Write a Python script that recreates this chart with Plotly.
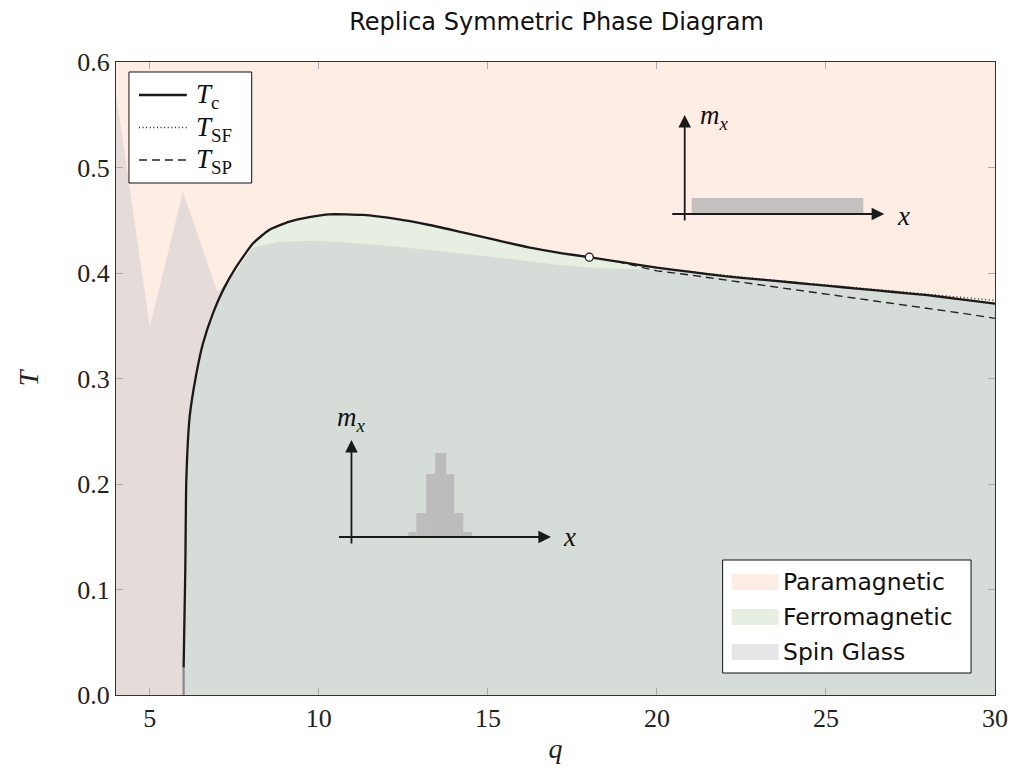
import plotly.graph_objects as go

# ---------------- data ----------------
Q_RANGE = [4, 30]
T_RANGE = [0.0, 0.6]
X_TICKS = [5, 10, 15, 20, 25, 30]
Y_TICKS = [0.0, 0.1, 0.2, 0.3, 0.4, 0.5, 0.6]

# critical temperature T_c(q)
tc_q = [6.0, 6.05, 6.08, 6.18, 6.38, 6.57, 6.87, 7.17, 7.56, 8.05, 8.54, 9.13, 9.72,
        10.31, 11.3, 12.28, 13.27, 14.25, 15.23, 16.2, 17.2, 18.0, 19, 20, 21, 22, 23,
        24, 25, 26, 27, 28, 29, 30]
tc_T = [0.026, 0.12, 0.204, 0.264, 0.305, 0.333, 0.362, 0.384, 0.406, 0.428, 0.441,
        0.4487, 0.453, 0.4556, 0.455, 0.4512, 0.4455, 0.4385, 0.4313, 0.4243, 0.4187,
        0.415, 0.410, 0.405, 0.401, 0.397, 0.394, 0.391, 0.388, 0.385, 0.382, 0.379,
        0.375, 0.371]

# low part of the q=6 boundary (drawn grey)
tc_low_q = [6.0, 6.0]
tc_low_T = [0.0, 0.026]

# spin-freezing temperature T_SF
sf_q = [18.8, 20, 21, 22, 23, 24, 25, 26, 27, 28, 29, 30]
sf_T = [0.411, 0.405, 0.4012, 0.3975, 0.3945, 0.3916, 0.3888, 0.386, 0.3832, 0.3803,
        0.377, 0.374]

# spinodal temperature T_SP
sp_q = [18.8, 20, 21, 22, 23, 24, 25, 26, 27, 28, 29, 30]
sp_T = [0.411, 0.402, 0.398, 0.3935, 0.3895, 0.385, 0.3805, 0.376, 0.3715, 0.367,
        0.362, 0.357]

# upper boundary of the spin-glass region
sg_q = [4, 5, 5.98, 7.0, 7.3, 7.56, 8.05, 8.84, 10.02, 11.79, 13.76, 15.73, 17.1,
        18.28, 20.3, 21, 22, 23, 24, 25, 26, 27, 28, 29, 30]
sg_T = [0.57, 0.349, 0.477, 0.382, 0.392, 0.402, 0.424, 0.4297, 0.4306, 0.4265,
        0.4202, 0.413, 0.4076, 0.4044, 0.403, 0.401, 0.397, 0.394, 0.391, 0.388,
        0.385, 0.382, 0.379, 0.375, 0.371]

# marked point on T_c
pt_q = [18.0]
pt_T = [0.415]

# inset histograms (m_x distributions)
ferro_bin_centers = [0.61, 0.70, 0.795, 0.895, 0.99, 1.075, 1.165]
ferro_bin_widths = [0.08, 0.10, 0.09, 0.11, 0.08, 0.09, 0.09]
ferro_heights = [0.05, 0.24, 0.63, 0.84, 0.63, 0.24, 0.05]

para_bin_centers = [0.93]
para_bin_widths = [1.72]
para_heights = [0.16]

phase_names = ["Paramagnetic", "Ferromagnetic", "Spin Glass"]
line_names = ["<i>T</i><sub>c</sub>", "<i>T</i><sub>SF</sub>", "<i>T</i><sub>SP</sub>"]

PARA_COLOR = "#fdede5"
FERRO_COLOR = "#e6efe2"
SG_COLOR = "rgba(190,190,196,0.38)"
HIST_COLOR = "rgba(180,180,180,0.8)"
phase_colors = [PARA_COLOR, FERRO_COLOR, SG_COLOR]

TC_LINE = dict(color="#1a1a1a", width=2.3)
SF_LINE = dict(color="#222222", width=1.3, dash="1px,2.6px")
SP_LINE = dict(color="#222222", width=1.4, dash="8px,5px")
line_styles = [TC_LINE, SF_LINE, SP_LINE]

SERIF = "Liberation Serif"
SANS = "DejaVu Sans"

fig = go.Figure()

# regions
fig.add_trace(go.Scatter(
    x=[Q_RANGE[0], Q_RANGE[1], Q_RANGE[1], Q_RANGE[0]],
    y=[T_RANGE[0], T_RANGE[0], T_RANGE[1], T_RANGE[1]],
    fill="toself", fillcolor=PARA_COLOR, mode="lines", line=dict(width=0),
    name=phase_names[0], showlegend=False, hoverinfo="skip"))

fig.add_trace(go.Scatter(
    x=[tc_q[0]] + tc_q + [tc_q[-1]],
    y=[0.0] + tc_T + [0.0],
    fill="toself", fillcolor=FERRO_COLOR, mode="lines",
    line=dict(width=0, shape="spline", smoothing=0.5),
    name=phase_names[1], showlegend=False, hoverinfo="skip"))

fig.add_trace(go.Scatter(
    x=[sg_q[0]] + sg_q + [sg_q[-1]],
    y=[0.0] + sg_T + [0.0],
    fill="toself", fillcolor=SG_COLOR, mode="lines", line=dict(width=0),
    name=phase_names[2], showlegend=False, hoverinfo="skip"))

# lines
fig.add_trace(go.Scatter(x=tc_low_q, y=tc_low_T, mode="lines",
                         line=dict(color="#8a8a8a", width=2.2),
                         showlegend=False, hoverinfo="skip"))
fig.add_trace(go.Scatter(x=sf_q, y=sf_T, mode="lines", line=SF_LINE,
                         name=line_names[1], showlegend=False))
fig.add_trace(go.Scatter(x=sp_q, y=sp_T, mode="lines", line=SP_LINE,
                         name=line_names[2], showlegend=False))
fig.add_trace(go.Scatter(x=tc_q, y=tc_T, mode="lines",
                         line=dict(**TC_LINE, shape="spline", smoothing=0.5),
                         name=line_names[0], showlegend=False))
fig.add_trace(go.Scatter(x=pt_q, y=pt_T, mode="markers",
                         marker=dict(color="white", size=8,
                                     line=dict(color="#1a1a1a", width=1.3)),
                         showlegend=False, hoverinfo="skip"))

# inset histograms
fig.add_trace(go.Bar(x=ferro_bin_centers, y=ferro_heights, width=ferro_bin_widths,
                     marker=dict(color=HIST_COLOR, line=dict(width=0)),
                     xaxis="x2", yaxis="y2", showlegend=False, hoverinfo="skip"))
fig.add_trace(go.Bar(x=para_bin_centers, y=para_heights, width=para_bin_widths,
                     marker=dict(color=HIST_COLOR, line=dict(width=0)),
                     xaxis="x3", yaxis="y3", showlegend=False, hoverinfo="skip"))

# ---------------- layout ----------------
W, H = 1020, 771
L, R, TOP, B = 116, 23, 62, 76
pw, ph = W - L - R, H - TOP - B


def px_x(p):
    return (p - L) / pw


def px_y(p):
    return (H - B - p) / ph


# inset axes: 100 px per unit, origin at the arrows' crossing
inset_x_range = [-0.14, 2.35]
inset_y_range = [-0.08, 1.30]

hidden = dict(visible=False, fixedrange=True)

fig.update_layout(
    width=W, height=H,
    margin=dict(l=L, r=R, t=TOP, b=B),
    paper_bgcolor="white",
    plot_bgcolor="rgba(0,0,0,0)",
    barmode="overlay",
    showlegend=False,
    title=dict(text="Replica Symmetric Phase Diagram", x=(L + pw / 2) / W, xanchor="center",
               y=1 - 22 / H, yanchor="middle",
               font=dict(family=SANS, size=24, color="#111")),
    xaxis=dict(range=Q_RANGE, tickvals=X_TICKS, ticktext=[str(v) for v in X_TICKS],
               showgrid=False, zeroline=False, showline=True, mirror="allticks",
               linecolor="#333", linewidth=1, ticks="inside", ticklen=7,
               tickcolor="#aaaaaa", tickwidth=1,
               tickfont=dict(family=SERIF, size=26, color="#222"),
               title=dict(text="<i>q</i>", font=dict(family=SERIF, size=28, color="#222"),
                          standoff=6)),
    yaxis=dict(range=T_RANGE, tickvals=Y_TICKS, ticktext=["%.1f" % v for v in Y_TICKS],
               showgrid=False, zeroline=False, showline=True, mirror="allticks",
               linecolor="#333", linewidth=1, ticks="inside", ticklen=7,
               tickcolor="#aaaaaa", tickwidth=1,
               tickfont=dict(family=SERIF, size=26, color="#222"),
               title=dict(text="<i>T</i>", font=dict(family=SERIF, size=28, color="#222"),
                          standoff=30)),
    xaxis2=dict(domain=[px_x(338), px_x(587)], range=inset_x_range, anchor="y2", **hidden),
    yaxis2=dict(domain=[px_y(545), px_y(407)], range=inset_y_range, anchor="x2", **hidden),
    xaxis3=dict(domain=[px_x(672), px_x(921)], range=inset_x_range, anchor="y3", **hidden),
    yaxis3=dict(domain=[px_y(222), px_y(84)], range=inset_y_range, anchor="x3", **hidden),
)

# inset axes (arrows) and labels
ARROW = dict(showarrow=True, arrowhead=2, arrowsize=1.4, arrowwidth=1.8,
             arrowcolor="#1a1a1a", text="")
for xr, yr, ytop in (("x2", "y2", 0.97), ("x3", "y3", 0.99)):
    fig.add_annotation(x=2.0, y=0, ax=-0.14, ay=0, xref=xr, yref=yr, axref=xr, ayref=yr, **ARROW)
    fig.add_annotation(x=0, y=ytop, ax=0, ay=-0.08, xref=xr, yref=yr, axref=xr, ayref=yr, **ARROW)

LABEL_FONT = dict(family=SERIF, size=27, color="#111")
fig.add_annotation(x=0.0, y=1.18, xref="x2", yref="y2", text="<i>m</i><sub><i>x</i></sub>",
                   showarrow=False, font=LABEL_FONT)
fig.add_annotation(x=2.19, y=0.0, xref="x2", yref="y2", text="<i>x</i>",
                   showarrow=False, font=LABEL_FONT)
fig.add_annotation(x=0.3, y=0.97, xref="x3", yref="y3", text="<i>m</i><sub><i>x</i></sub>",
                   showarrow=False, font=LABEL_FONT)
fig.add_annotation(x=2.19, y=-0.02, xref="x3", yref="y3", text="<i>x</i>",
                   showarrow=False, font=LABEL_FONT)

# line key (top left)
fig.add_shape(type="rect", xref="paper", yref="paper",
              x0=px_x(129), x1=px_x(252), y0=px_y(183), y1=px_y(72),
              fillcolor="white", line=dict(color="#111", width=1), layer="above")
for i, (nm, st) in enumerate(zip(line_names, line_styles)):
    cy = 95 + 32.5 * i
    fig.add_shape(type="line", xref="paper", yref="paper",
                  x0=px_x(139), x1=px_x(187), y0=px_y(cy), y1=px_y(cy),
                  line=st, layer="above")
    fig.add_annotation(x=px_x(194), y=px_y(cy + 1), xref="paper", yref="paper",
                       xanchor="left", yanchor="middle", text=nm, showarrow=False,
                       font=dict(family=SERIF, size=27, color="#111"))

# phase key (bottom right)
fig.add_shape(type="rect", xref="paper", yref="paper",
              x0=px_x(724), x1=px_x(973), y0=px_y(673), y1=px_y(560),
              fillcolor="white", line=dict(color="#111", width=1), layer="above")
for i, (nm, col) in enumerate(zip(phase_names, phase_colors)):
    cy = 582 + 35 * i
    fig.add_shape(type="rect", xref="paper", yref="paper",
                  x0=px_x(733), x1=px_x(780), y0=px_y(cy + 8), y1=px_y(cy - 8),
                  fillcolor=col, line=dict(width=0), layer="above")
    fig.add_annotation(x=px_x(783), y=px_y(cy), xref="paper", yref="paper",
                       xanchor="left", yanchor="middle", text=nm, showarrow=False,
                       font=dict(family=SANS, size=23.5, color="#111"))

fig.write_html("out.html", config={"displayModeBar": False},
               post_script="document.body.style.margin='0px';")
